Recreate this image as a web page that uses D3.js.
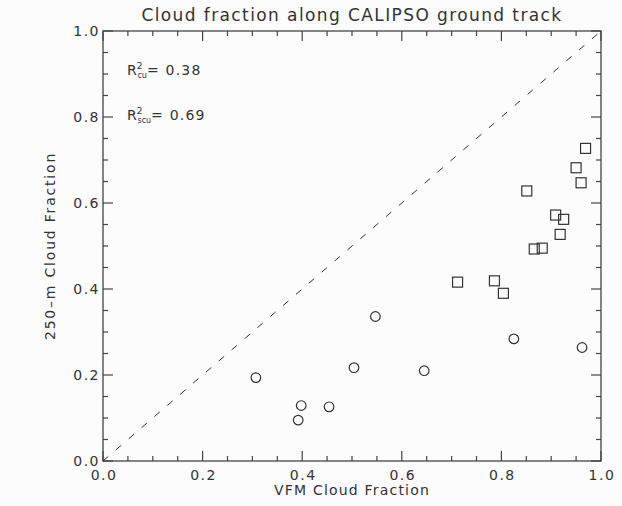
<!DOCTYPE html>
<html>
<head>
<meta charset="utf-8">
<script src="https://cdn.jsdelivr.net/npm/d3@7"></script>
<style>
  body { margin: 0; background: #fcfcfc; }
  svg { display: block; }
  text { font-family: "DejaVu Sans", sans-serif; fill: #333; }
</style>
</head>
<body>
<div id="chart"></div>
<script>
// Cumulus (circles) - VFM fraction vs 250-m fraction
var cuX = [0.307, 0.392, 0.398, 0.454, 0.504, 0.547, 0.645, 0.825, 0.962];
var cuY = [0.194, 0.095, 0.129, 0.126, 0.217, 0.336, 0.210, 0.284, 0.264];
// Stratocumulus (squares)
var scuX = [0.712, 0.786, 0.804, 0.851, 0.866, 0.882, 0.909, 0.918, 0.925, 0.950, 0.960, 0.969];
var scuY = [0.416, 0.419, 0.390, 0.628, 0.493, 0.495, 0.572, 0.527, 0.562, 0.682, 0.647, 0.727];
var majorTicks = [0, 0.2, 0.4, 0.6, 0.8, 1.0];
var minorTicks = d3.range(0, 1.0001, 0.05);
var titleText = "Cloud fraction along CALIPSO ground track";
var xLabel = "VFM Cloud Fraction";
var yLabel = "250\u2013m Cloud Fraction";
var r2Cu = "0.38", r2Scu = "0.69";

var W = 622, H = 506;
var margin = { top: 31, right: 21, bottom: 45, left: 103 },
    width = W - margin.left - margin.right,
    height = H - margin.top - margin.bottom;

var svg = d3.select("#chart").append("svg")
    .attr("width", W).attr("height", H);

var g = svg.append("g")
    .attr("transform", "translate(" + margin.left + "," + margin.top + ")");

var x = d3.scaleLinear().domain([0, 1]).range([0, width]);
var y = d3.scaleLinear().domain([0, 1]).range([height, 0]);

var axisCol = "#444";

// frame
g.append("rect")
  .attr("width", width).attr("height", height)
  .attr("fill", "none").attr("stroke", axisCol).attr("stroke-width", 1.3);

// ticks on all four sides (inward)
function tickLen(v) {
  return majorTicks.some(function(m) { return Math.abs(m - v) < 1e-6; }) ? 10 : 5;
}
var ticks = g.append("g").attr("stroke", axisCol).attr("stroke-width", 1.2);
minorTicks.forEach(function(v) {
  var L = tickLen(v);
  ticks.append("line").attr("x1", x(v)).attr("x2", x(v)).attr("y1", height).attr("y2", height - L);
  ticks.append("line").attr("x1", x(v)).attr("x2", x(v)).attr("y1", 0).attr("y2", L);
  ticks.append("line").attr("y1", y(v)).attr("y2", y(v)).attr("x1", 0).attr("x2", L);
  ticks.append("line").attr("y1", y(v)).attr("y2", y(v)).attr("x1", width).attr("x2", width - L);
});

// tick labels
g.selectAll(".xl").data(majorTicks).enter().append("text")
  .attr("x", function(d) { return x(d) + 1; })
  .attr("y", height + 19)
  .attr("text-anchor", "middle")
  .style("font-size", "14px").style("letter-spacing", "1.5px")
  .text(function(d) { return d.toFixed(1); });

g.selectAll(".yl").data(majorTicks).enter().append("text")
  .attr("x", -3)
  .attr("y", function(d) { return y(d) + 5; })
  .attr("text-anchor", "end")
  .style("font-size", "14px").style("letter-spacing", "1.5px")
  .text(function(d) { return d.toFixed(1); });

// axis titles
g.append("text")
  .attr("x", width / 2).attr("y", height + 34)
  .attr("text-anchor", "middle")
  .style("font-size", "14px").style("letter-spacing", "1.2px")
  .text(xLabel);

g.append("text")
  .attr("transform", "translate(" + (-48) + "," + (height / 2) + ") rotate(-90)")
  .attr("text-anchor", "middle")
  .style("font-size", "14px").style("letter-spacing", "1.8px")
  .text(yLabel);

// title
svg.append("text")
  .attr("x", margin.left + width / 2).attr("y", 21)
  .attr("text-anchor", "middle")
  .style("font-size", "17px").style("letter-spacing", "1.4px")
  .text(titleText);

// 1:1 dashed line
g.append("line")
  .attr("x1", x(0)).attr("y1", y(0)).attr("x2", x(1)).attr("y2", y(1))
  .attr("stroke", "#333").attr("stroke-width", 1)
  .attr("stroke-dasharray", "7,10");

// circles
g.selectAll(".cu").data(cuX).enter().append("circle")
  .attr("cx", function(d) { return x(d); })
  .attr("cy", function(d, i) { return y(cuY[i]); })
  .attr("r", 4.8)
  .attr("fill", "none").attr("stroke", "#333").attr("stroke-width", 1.2);

// squares
var s = 10;
g.selectAll(".scu").data(scuX).enter().append("rect")
  .attr("x", function(d) { return x(d) - s / 2; })
  .attr("y", function(d, i) { return y(scuY[i]) - s / 2; })
  .attr("width", s).attr("height", s)
  .attr("fill", "none").attr("stroke", "#333").attr("stroke-width", 1.2);

// R^2 annotations
function r2(yPos, sub, val) {
  var t = g.append("text").attr("x", 24).attr("y", yPos).style("font-size", "14px");
  t.append("tspan").text("R");
  t.append("tspan").attr("dy", -6).style("font-size", "9px").text("2");
  t.append("tspan").attr("dx", -5).attr("dy", 9).style("font-size", "8px").text(sub);
  t.append("tspan").attr("dy", -3).style("letter-spacing", "1.2px").text("= " + val);
}
r2(44, "cu", r2Cu);
r2(89, "scu", r2Scu);
</script>
</body>
</html>
